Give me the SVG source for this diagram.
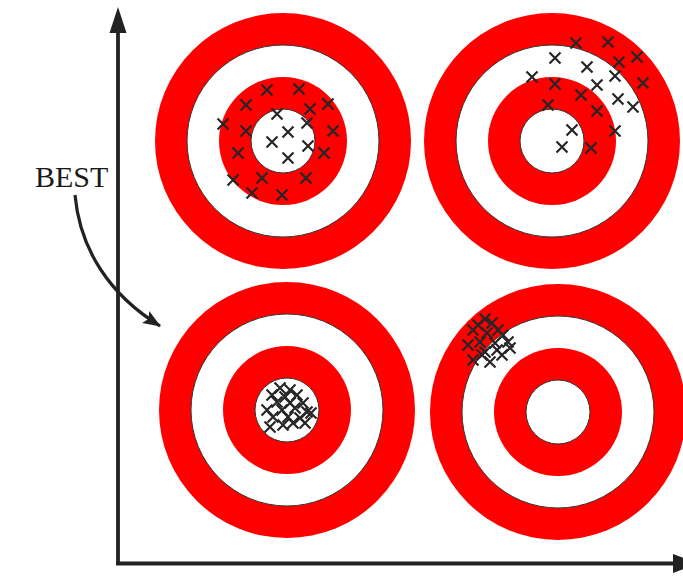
<svg xmlns="http://www.w3.org/2000/svg" xmlns:xlink="http://www.w3.org/1999/xlink" width="683" height="586" viewBox="0 0 683 586">
<style>
.red{fill:#ff0000;stroke:none}
.wht{fill:#ffffff;stroke:#333333;stroke-width:1}
.ax{stroke:#222222;stroke-width:3.8;fill:none}
.head{fill:#222222;stroke:none}
.lbl{font-family:"Liberation Serif","DejaVu Serif",serif;font-size:30px;fill:#1a1a1a}
</style>
<defs>
<path id="x" d="M-5.5,-5.5 L5.5,5.5 M-5.5,5.5 L5.5,-5.5" stroke="#262626" stroke-width="2.2" fill="none"/>
<marker id="ah" markerWidth="20" markerHeight="14" refX="17" refY="7" orient="auto" markerUnits="userSpaceOnUse">
<path d="M0,0 L18,7 L0,14 L3.5,7 Z" fill="#222222"/>
</marker>
</defs>
<rect width="683" height="586" fill="#ffffff"/>

<g id="target-top-left">
<circle class="red" cx="283" cy="141" r="128"/>
<circle class="wht" cx="283" cy="141" r="96"/>
<circle class="red" cx="283" cy="141" r="64"/>
<circle class="wht" cx="283" cy="141" r="32"/>
<use href="#x" x="267" y="90"/><use href="#x" x="299" y="89"/><use href="#x" x="246" y="105"/>
<use href="#x" x="310" y="109"/><use href="#x" x="328" y="104"/><use href="#x" x="223" y="124"/>
<use href="#x" x="277" y="114"/><use href="#x" x="246" y="131"/><use href="#x" x="307" y="123"/>
<use href="#x" x="288" y="132"/><use href="#x" x="333" y="131"/><use href="#x" x="272" y="142"/>
<use href="#x" x="308" y="146"/><use href="#x" x="324" y="153"/><use href="#x" x="238" y="153"/>
<use href="#x" x="288" y="158"/><use href="#x" x="262" y="178"/><use href="#x" x="306" y="178"/>
<use href="#x" x="233" y="180"/><use href="#x" x="252" y="193"/><use href="#x" x="282" y="195"/>
</g>

<g id="target-top-right">
<circle class="red" cx="552" cy="141" r="128"/>
<circle class="wht" cx="552" cy="141" r="96"/>
<circle class="red" cx="552" cy="141" r="64"/>
<circle class="wht" cx="552" cy="141" r="32"/>
<use href="#x" x="576" y="43"/><use href="#x" x="608" y="42"/><use href="#x" x="555" y="58"/>
<use href="#x" x="587" y="67"/><use href="#x" x="619" y="62"/><use href="#x" x="637" y="57"/>
<use href="#x" x="532" y="77"/><use href="#x" x="555" y="84"/><use href="#x" x="597" y="85"/>
<use href="#x" x="615" y="76"/><use href="#x" x="643" y="83"/><use href="#x" x="581" y="95"/>
<use href="#x" x="618" y="99"/><use href="#x" x="633" y="107"/><use href="#x" x="548" y="105"/>
<use href="#x" x="597" y="111"/><use href="#x" x="572" y="130"/><use href="#x" x="615" y="131"/>
<use href="#x" x="562" y="147"/><use href="#x" x="591" y="148"/>
</g>

<g id="target-bottom-left">
<circle class="red" cx="287" cy="410" r="128"/>
<circle class="wht" cx="287" cy="410" r="96"/>
<circle class="red" cx="287" cy="410" r="64"/>
<circle class="wht" cx="287" cy="410" r="32"/>
<use href="#x" x="280" y="388"/><use href="#x" x="290" y="390"/><use href="#x" x="272" y="395"/>
<use href="#x" x="285" y="397"/><use href="#x" x="297" y="395"/><use href="#x" x="277" y="402"/>
<use href="#x" x="290" y="403"/><use href="#x" x="303" y="403"/><use href="#x" x="267" y="410"/>
<use href="#x" x="282" y="410"/><use href="#x" x="295" y="408"/><use href="#x" x="307" y="412"/>
<use href="#x" x="273" y="417"/><use href="#x" x="288" y="417"/><use href="#x" x="300" y="418"/>
<use href="#x" x="311" y="413"/><use href="#x" x="270" y="427"/><use href="#x" x="283" y="425"/>
<use href="#x" x="293" y="423"/><use href="#x" x="305" y="423"/>
</g>

<g id="target-bottom-right">
<circle class="red" cx="558" cy="412" r="128"/>
<circle class="wht" cx="558" cy="412" r="96"/>
<circle class="red" cx="558" cy="412" r="64"/>
<circle class="wht" cx="558" cy="412" r="32"/>
<use href="#x" x="485" y="319"/><use href="#x" x="478" y="325"/><use href="#x" x="492" y="323"/>
<use href="#x" x="498" y="330"/><use href="#x" x="473" y="330"/><use href="#x" x="487" y="333"/>
<use href="#x" x="503" y="335"/><use href="#x" x="468" y="345"/><use href="#x" x="480" y="342"/>
<use href="#x" x="495" y="343"/><use href="#x" x="508" y="342"/><use href="#x" x="473" y="360"/>
<use href="#x" x="485" y="352"/><use href="#x" x="497" y="350"/><use href="#x" x="510" y="348"/>
<use href="#x" x="490" y="362"/><use href="#x" x="502" y="355"/><use href="#x" x="482" y="355"/>
</g>

<g id="label-best">
<text class="lbl" x="35" y="187">BEST</text>
</g>

<g id="connectors">
<line class="ax" x1="118" y1="30" x2="118" y2="565"/>
<path class="head" d="M118,7 L126.5,33 L109.5,33 Z"/>
<line class="ax" x1="116.1" y1="563.5" x2="676" y2="563.5"/>
<path class="head" d="M698,563.5 L673,573 L673,554 Z"/>
<path d="M75,195 C80,250 110,295 160,326" stroke="#222222" stroke-width="3.2" fill="none" marker-end="url(#ah)"/>
</g>
</svg>
